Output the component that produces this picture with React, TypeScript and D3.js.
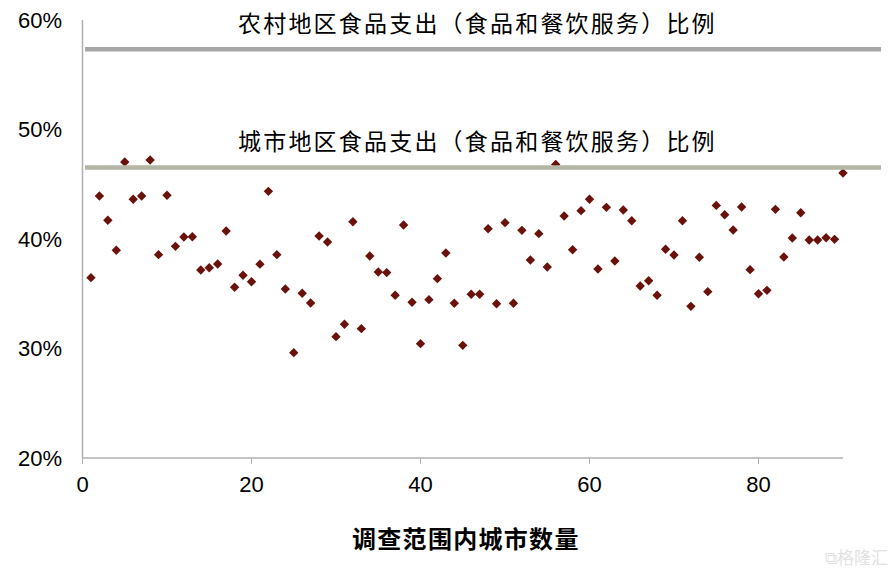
import React from "react";
import * as d3 from "d3";

const cityIndex: number[] = d3.range(1, 91);
const foodShare: number[] = [
  36.47, 43.93, 41.71, 38.97, 47.03, 43.63, 43.93, 47.21, 38.57, 44.0,
  39.33, 40.18, 40.21, 37.17, 37.38, 37.72, 40.73, 35.59, 36.69, 36.1,
  37.7, 44.35, 38.57, 35.43, 29.62, 35.04, 34.16, 40.27, 39.73, 31.08,
  32.21, 41.58, 31.81, 38.45, 36.99, 36.93, 34.86, 41.28, 34.22, 30.44,
  34.46, 36.38, 38.72, 34.13, 30.29, 34.95, 34.95, 40.94, 34.09, 41.49,
  34.13, 40.79, 38.08, 40.49, 37.44, 46.8, 42.1, 39.02, 42.59, 43.63,
  37.26, 42.89, 37.99, 42.65, 41.67, 35.71, 36.19, 34.86, 39.06, 38.54,
  41.67, 33.85, 38.33, 35.19, 43.07, 42.22, 40.82, 42.92, 37.2, 35.0,
  35.31, 42.71, 38.36, 40.09, 42.4, 39.91, 39.91, 40.12, 39.97, 46.03,
];
const refNames: string[] = [
  "农村地区食品支出（食品和餐饮服务）比例",
  "城市地区食品支出（食品和餐饮服务）比例",
];
const refValues: number[] = [57.33, 46.53];
const refColors: string[] = ["#a6a6a6", "#b5b5a6"];
const refSpan: number[] = [0.3, 94.5];
const xTicks: number[] = [0, 20, 40, 60, 80];
const yTicks: number[] = [20, 30, 40, 50, 60];
const xTitle = "调查范围内城市数量";

const W = 895;
const H = 574;

export default function App() {
  const x = d3.scaleLinear().domain([0, 90]).range([82.5, 843]);
  const y = d3.scaleLinear().domain([20, 60]).range([458, 20]);
  const diamond = d3.symbol(d3.symbolSquare, 44)() as string;
  const cjk = "'Noto Sans CJK SC', 'Noto Sans', sans-serif";
  const latin = "'Liberation Sans', Arial, sans-serif";

  return (
    <svg
      width={W}
      height={H}
      style={{ position: "absolute", left: 0, top: 0, background: "#fff" }}
    >
      {/* axes */}
      <line x1={x(0)} x2={x(0)} y1={y(60)} y2={y(20)} stroke="#b0b0b0" strokeWidth={1.5} />
      <line x1={x(0)} x2={x(90)} y1={y(20)} y2={y(20)} stroke="#b0b0b0" strokeWidth={1.5} />
      {xTicks.map((t) => (
        <g key={"xt" + t}>
          <line x1={x(t)} x2={x(t)} y1={y(20)} y2={y(20) + 6} stroke="#b0b0b0" strokeWidth={1} />
          <text
            x={x(t)}
            y={484}
            textAnchor="middle"
            dominantBaseline="central"
            fontFamily={latin}
            fontSize={22}
            fill="#000"
          >
            {t}
          </text>
        </g>
      ))}
      {yTicks.map((t) => (
        <text
          key={"yt" + t}
          x={62}
          y={y(t)}
          textAnchor="end"
          dominantBaseline="central"
          fontFamily={latin}
          fontSize={22}
          fill="#000"
        >
          {t}%
        </text>
      ))}

      {/* points */}
      {foodShare.map((v, i) => (
        <path
          key={"p" + i}
          d={diamond}
          transform={`translate(${x(cityIndex[i])},${y(v)}) rotate(45)`}
          fill="#6a110b"
        />
      ))}

      {/* reference lines */}
      {refValues.map((v, i) => (
        <g key={"r" + i}>
          <line
            x1={x(refSpan[0])}
            x2={x(refSpan[1])}
            y1={y(v)}
            y2={y(v)}
            stroke={refColors[i]}
            strokeWidth={4.5}
          />
          <text
            x={238}
            y={y(v) - 27}
            dominantBaseline="central"
            fontFamily={cjk}
            fontSize={23}
            letterSpacing={2.2}
            fill="#000"
          >
            {refNames[i]}
          </text>
        </g>
      ))}

      {/* x axis title */}
      <text
        x={352}
        y={537}
        dominantBaseline="central"
        fontFamily={cjk}
        fontSize={24}
        fontWeight={700}
        letterSpacing={1.3}
        fill="#000"
      >
        {xTitle}
      </text>

      {/* watermark */}
      <text
        x={888}
        y={556}
        textAnchor="end"
        dominantBaseline="central"
        fontFamily={cjk}
        fontSize={17}
        fill="#e2e2e2"
      >
        ⧉格隆汇
      </text>
    </svg>
  );
}
